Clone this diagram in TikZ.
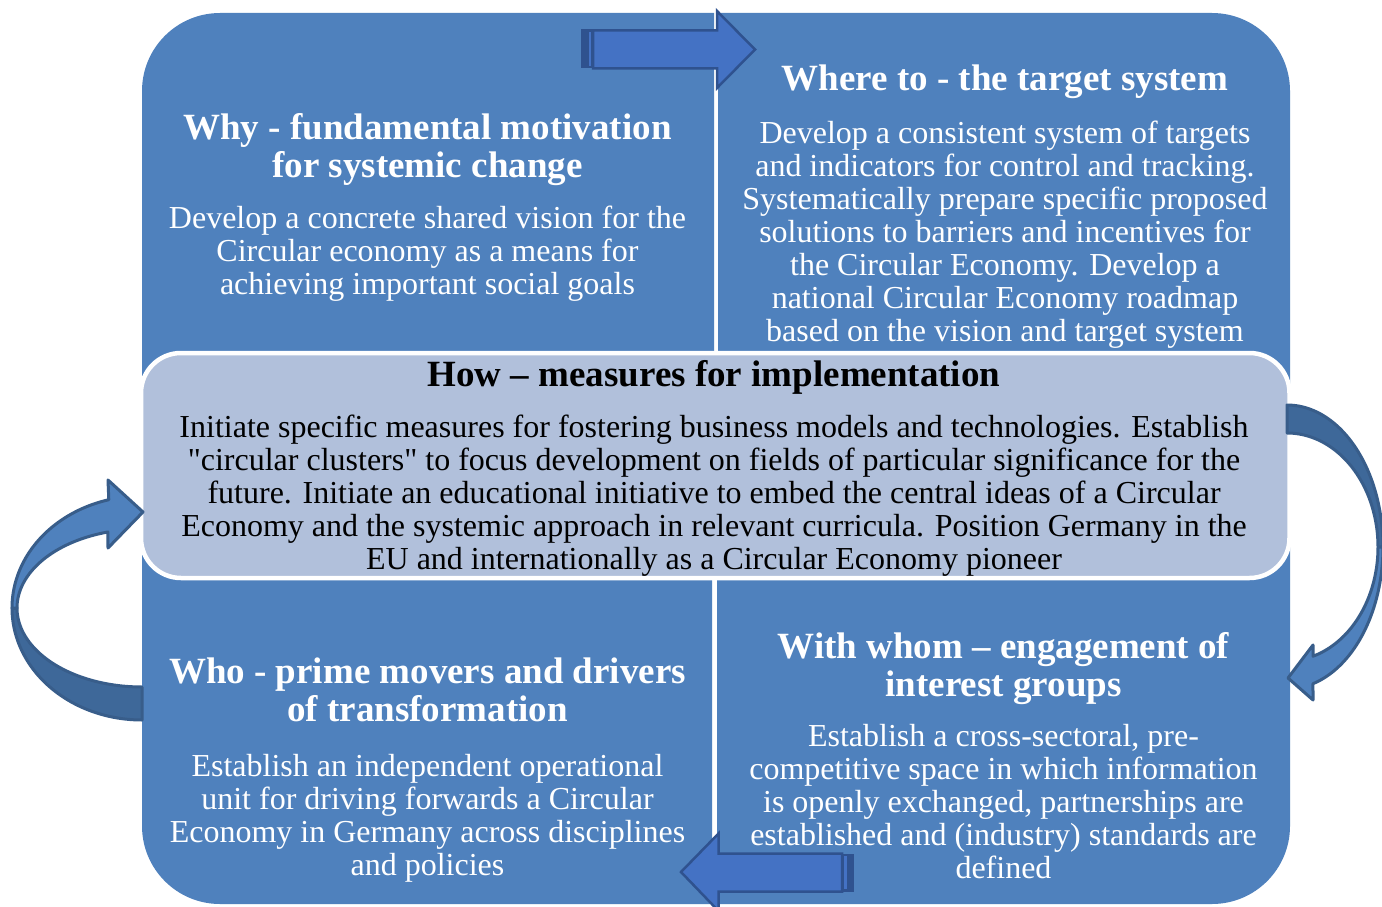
\documentclass[tikz,border=0pt]{standalone}
\usepackage{fontspec}
\setmainfont{Liberation Serif}[Ligatures=TeXOff]
\definecolor{quad}{RGB}{79,129,189}
\definecolor{centerfill}{RGB}{177,192,219}
\definecolor{blockfill}{RGB}{68,114,196}
\definecolor{blockline}{RGB}{47,82,143}
\definecolor{curvdark}{RGB}{62,104,153}
\definecolor{curvlight}{RGB}{79,129,189}
\definecolor{curvline}{RGB}{56,93,138}
\tikzset{
  ttl/.style={font=\fontsize{37}{38.5}\selectfont\bfseries, text=white, align=center, inner sep=0pt, anchor=base},
  bdy/.style={font=\fontsize{32}{33}\selectfont, text=white, align=center, inner sep=0pt, anchor=base},
  cttl/.style={ttl, text=black},
  cbdy/.style={bdy, text=black},
  quadfill/.style={fill=quad, rounded corners=78pt},
  curvedge/.style={draw=curvline, line width=3pt, line join=round},
  blockarrow/.style={fill=blockfill, draw=blockline, line width=2.5pt, line join=miter}
}
\begin{document}
\begin{tikzpicture}[x=1pt,y=-1pt]
\useasboundingbox (0,0) rectangle (1382,907);
\fill[white] (0,0) rectangle (1382,907);
% quadrants
\begin{scope}\clip (142,13) rectangle (714,465);
\fill[quadfill] (142,13) rectangle (1000,800);\end{scope}
\begin{scope}\clip (718,13) rectangle (1290,465);
\fill[quadfill] (400,13) rectangle (1290,800);\end{scope}
\begin{scope}\clip (142,465) rectangle (712,904);
\fill[quadfill] (142,100) rectangle (1000,904);\end{scope}
\begin{scope}\clip (717,465) rectangle (1290,904);
\fill[quadfill] (400,100) rectangle (1290,904);\end{scope}
% center box
\draw[line width=4.5pt, draw=white, fill=centerfill, rounded corners=40pt] (141,353) rectangle (1289.5,578);
% top striped arrow
\fill[blockline] (581,29.5) rectangle (594,68.5);
\fill[blockfill] (588.5,32) rectangle (590.7,66);
\draw[blockarrow] (593,30.5) -- (717,30.5) -- (717,11) -- (755,49.5) -- (717,88) -- (717,68.5) -- (593,68.5) -- cycle;
% bottom striped arrow
\fill[blockline] (841,853.5) rectangle (853.5,891.5);
\fill[blockfill] (844.3,856) rectangle (846.5,889);
\draw[blockarrow] (842,853.5) -- (718.5,853.5) -- (718.5,833.5) -- (681,872) -- (718.5,911) -- (718.5,891.5) -- (842,891.5) -- cycle;
% left curved arrow
\filldraw[fill=curvdark, curvedge]
  plot[domain=90:180, samples=50, variable=\t] ({142+130*cos(\t)},{608+112*sin(\t)})
  -- plot[domain=180:90, samples=50, variable=\t] ({142+125*cos(\t)},{608+79*sin(\t)}) -- cycle;
\filldraw[fill=curvlight, curvedge]
  plot[domain=180:255.2, samples=50, variable=\t] ({142+130*cos(\t)},{608+112*sin(\t)})
  -- (108,480) -- (143,512) -- (108,548)
  -- plot[domain=254.2:180, samples=50, variable=\t] ({142+125*cos(\t)},{608+79*sin(\t)}) -- cycle;
% right curved arrow
\filldraw[fill=curvdark, curvedge]
  plot[domain=-90:0, samples=50, variable=\t] ({1287+96*cos(\t)},{547+142*sin(\t)})
  -- plot[domain=0:-90, samples=50, variable=\t] ({1287+91*cos(\t)},{547+114*sin(\t)}) -- cycle;
\filldraw[fill=curvlight, curvedge]
  plot[domain=0:74.3, samples=50, variable=\t] ({1287+96*cos(\t)},{547+142*sin(\t)})
  -- (1313,700) -- (1288,678) -- (1313,645)
  -- plot[domain=73.4:0, samples=50, variable=\t] ({1287+91*cos(\t)},{547+114*sin(\t)}) -- cycle;
% texts (anchor = baseline of the last line)
\node[ttl] (whyT) at (427.5,177.5) {Why - fundamental motivation\\for systemic change};
\node[bdy] (whyB) at (427.5,294) {Develop a concrete shared vision for the\\Circular economy as a means for\\achieving important social goals};
\node[ttl] (whereT) at (1005,91) {Where to - the target system};
\node[bdy] (whereB) at (1005,341) {Develop a consistent system of targets\\and indicators for control and tracking.\\Systematically prepare specific proposed\\solutions to barriers and incentives for\\the Circular Economy. Develop a\\national Circular Economy roadmap\\based on the vision and target system};
\node[cttl] (howT) at (714,386) {How – measures for implementation};
\node[cbdy] (howB) at (714,569) {Initiate specific measures for fostering business models and technologies. Establish\\"circular clusters" to focus development on fields of particular significance for the\\future. Initiate an educational initiative to embed the central ideas of a Circular\\Economy and the systemic approach in relevant curricula. Position Germany in the\\EU and internationally as a Circular Economy pioneer};
\node[ttl] (whoT) at (427.5,721.5) {Who - prime movers and drivers\\of transformation};
\node[bdy] (whoB) at (427.5,875) {Establish an independent operational\\unit for driving forwards a Circular\\Economy in Germany across disciplines\\and policies};
\node[ttl] (withT) at (1003.5,696.5) {With whom – engagement of\\interest groups};
\node[bdy] (withB) at (1003.5,878) {Establish a cross-sectoral, pre-\\competitive space in which information\\is openly exchanged, partnerships are\\established and (industry) standards are\\defined};
\end{tikzpicture}
\end{document}
